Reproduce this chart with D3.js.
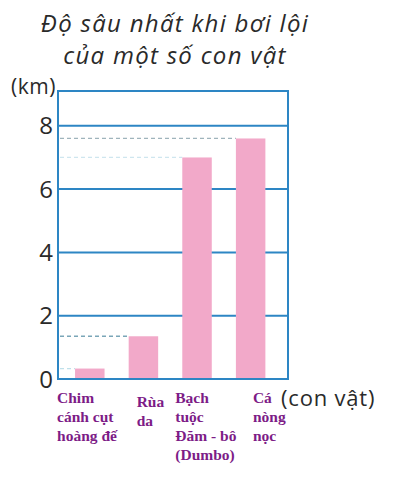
<!DOCTYPE html>
<html>
<head>
<meta charset="utf-8">
<script src="https://cdn.jsdelivr.net/npm/d3@7"></script>
<style>
  body { margin: 0; background: #fff; }
  svg { display: block; }
</style>
</head>
<body>
<svg id="chart"></svg>
<script>
// Data
const ANIMALS = [
  ['Chim', 'cánh cụt', 'hoàng đế'],
  ['Rùa', 'da'],
  ['Bạch', 'tuộc', 'Đăm - bô', '(Dumbo)'],
  ['Cá', 'nòng', 'nọc']
];
const DEPTHS = [0.33, 1.35, 7, 7.6];
const Y_TICKS = [0, 2, 4, 6, 8];
const TITLE = ['Độ sâu nhất khi bơi lội', 'của một số con vật'];

const width = 408;
const height = 486;
const plot = {left: 58, right: 288, top: 91, bottom: 379};

const blue = '#2d86c4';
const pink = '#f2a9c9';
const purple = '#7d1c87';
const ink = '#2a2a2a';

const svg = d3.select('#chart')
  .attr('width', width)
  .attr('height', height);

const x = d3.scaleBand()
  .domain(d3.range(ANIMALS.length))
  .range([plot.left, plot.right])
  .paddingInner(0.45)
  .paddingOuter(0.37)
  .align(0.43);

const y = d3.scaleLinear()
  .domain([0, 9.1])
  .range([plot.bottom, plot.top]);

// title
svg.append('g')
  .selectAll('text')
  .data(TITLE).enter()
  .append('text')
    .attr('x', 175)
    .attr('y', (d, i) => 32 + i * 32)
    .attr('text-anchor', 'middle')
    .attr('font-family', 'Open Sans, sans-serif')
    .attr('font-style', 'italic')
    .attr('font-size', 24)
    .attr('letter-spacing', 1.3)
    .attr('fill', ink)
    .text(d => d);

// unit labels
svg.append('text')
  .attr('x', 11)
  .attr('y', 94)
  .attr('font-family', 'Open Sans, sans-serif')
  .attr('font-size', 21)
  .attr('letter-spacing', 0.5)
  .attr('fill', ink)
  .text('(km)');

svg.append('text')
  .attr('x', 281)
  .attr('y', 406)
  .attr('font-family', 'Open Sans, sans-serif')
  .attr('font-size', 22)
  .attr('letter-spacing', 0.8)
  .attr('fill', ink)
  .text('(con vật)');

// grid lines
svg.append('g')
  .selectAll('line')
  .data(Y_TICKS.filter(d => d > 0)).enter()
  .append('line')
    .attr('x1', plot.left)
    .attr('x2', plot.right)
    .attr('y1', d => y(d))
    .attr('y2', d => y(d))
    .attr('stroke', blue)
    .attr('stroke-width', 2);

// y tick labels
svg.append('g')
  .selectAll('text')
  .data(Y_TICKS).enter()
  .append('text')
    .attr('x', 53)
    .attr('y', d => y(d))
    .attr('dy', '0.36em')
    .attr('text-anchor', 'end')
    .attr('font-family', 'Open Sans, sans-serif')
    .attr('font-size', 24)
    .attr('fill', ink)
    .text(d => d);

// dashed guides from axis to bar tops
const dashColors = ['#bfe0ea', '#7aa6b8', '#cfe6ef', '#9fb4bc'];
svg.append('g')
  .selectAll('line')
  .data(DEPTHS).enter()
  .append('line')
    .attr('x1', plot.left + 2)
    .attr('x2', (d, i) => x(i))
    .attr('y1', d => y(d))
    .attr('y2', d => y(d))
    .attr('stroke', (d, i) => dashColors[i])
    .attr('stroke-width', 1.3)
    .attr('stroke-dasharray', '4,3');

// bars
svg.append('g')
  .selectAll('rect')
  .data(DEPTHS).enter()
  .append('rect')
    .attr('x', (d, i) => x(i))
    .attr('y', d => y(d))
    .attr('width', x.bandwidth())
    .attr('height', d => y(0) - y(d))
    .attr('fill', pink);

// frame
svg.append('rect')
  .attr('x', plot.left)
  .attr('y', plot.top)
  .attr('width', plot.right - plot.left)
  .attr('height', plot.bottom - plot.top)
  .attr('fill', 'none')
  .attr('stroke', blue)
  .attr('stroke-width', 2);

// category labels (hand-placed offsets from each bar, as in the picture)
const labelDx = [-18, 8, -7, 17];
const labelTop = [403, 406.5, 403, 403];
svg.append('g')
  .selectAll('text')
  .data(ANIMALS).enter()
  .append('text')
    .attr('font-family', 'Liberation Serif, Times New Roman, serif')
    .attr('font-weight', 'bold')
    .attr('font-size', 15.5)
    .attr('fill', purple)
    .each(function (d, i) {
      d3.select(this).selectAll('tspan')
        .data(d).enter()
        .append('tspan')
          .attr('x', x(i) + labelDx[i])
          .attr('y', (t, j) => labelTop[i] + j * 19)
          .text(t => t);
    });
</script>
</body>
</html>
